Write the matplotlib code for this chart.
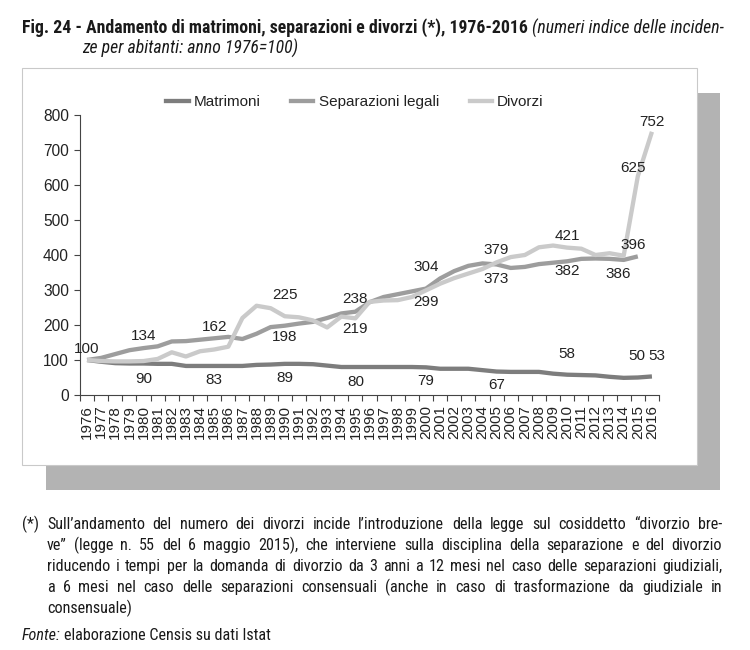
import matplotlib
matplotlib.use("Agg")
import matplotlib.pyplot as plt
import numpy as np
from matplotlib import font_manager as fm
from matplotlib.patches import Rectangle
from matplotlib.lines import Line2D

# ---------------- data ----------------
years = list(range(1976, 2017))
year_labels = [str(y) for y in years]

matrimoni = [100, 95, 91, 90, 90, 89, 89, 83, 83, 83,
             83, 83, 86, 87, 89, 89, 88, 84, 80, 80,
             80, 80, 80, 80, 79, 75, 75, 75, 71, 67,
             66, 66, 66, 61, 58, 57, 56, 52, 49, 50,
             53]
separazioni = [100, 106, 117, 128, 134, 139, 153, 154, 158, 162,
               166, 160, 175, 194, 198, 204, 209, 220, 233, 238,
               265, 280, 288, 296, 304, 333, 354, 369, 376, 373,
               363, 366, 374, 378, 382, 389, 390, 389, 386, 396,
               np.nan]
divorzi = [100, 97, 96, 96, 97, 103, 122, 110, 125, 130,
           138, 220, 255, 248, 225, 222, 213, 193, 224, 219,
           266, 270, 271, 280, 299, 318, 334, 347, 360, 379,
           394, 400, 422, 427, 421, 418, 400, 405, 398, 625,
           752]

series_names = ["Matrimoni", "Separazioni legali", "Divorzi"]
series_values = [matrimoni, separazioni, divorzi]
y_ticks = [0, 100, 200, 300, 400, 500, 600, 700, 800]

# years that carry a data label, per series
label_years = [
    [1980, 1985, 1990, 1995, 2000, 2005, 2010, 2015, 2016],
    [1980, 1985, 1990, 1995, 2000, 2005, 2010, 2014, 2015],
    [1976, 1990, 1995, 2000, 2005, 2010, 2015, 2016],
]

title_bold = "Fig. 24 - Andamento di matrimoni, separazioni e divorzi (*), 1976-2016"
title_italic_1 = "(numeri indice delle inciden-"
title_italic_2 = "ze per abitanti: anno 1976=100)"
note_lines = [
    "Sull\u2019andamento del numero dei divorzi incide l\u2019introduzione della legge sul cosiddetto \u201cdivorzio bre-",
    "ve\u201d (legge n. 55 del 6 maggio 2015), che interviene sulla disciplina della separazione e del divorzio",
    "riducendo i tempi per la domanda di divorzio da 3 anni a 12 mesi nel caso delle separazioni giudiziali,",
    "a 6 mesi nel caso delle separazioni consensuali (anche in caso di trasformazione da giudiziale in",
    "consensuale)",
]
note_mark = "(*)"
source_label = "Fonte:"
source_text = "elaborazione Censis su dati Istat"

# ---------------- styles ----------------
colors = ["#7d7d7d", "#9d9d9d", "#cacaca"]
LW = 3.1

# label offsets in pixels (dx, dy up)
label_offsets = [
    [(0, -16), (0, -14), (0, -14), (0, -15), (0, -14), (0, -13), (0, 21), (-1, 21), (5, 20)],
    [(0, 12), (0, 11), (0, -11), (0, 13), (0, 22), (0, -15), (0, -10), (-5, -14), (-5, 11)],
    [(0, 11), (0, 21), (0, -11), (0, -12), (0, 12), (0, 12), (-5, 8), (0, 10)],
]


def pick(fams):
    for f in fams:
        try:
            fm.findfont(fm.FontProperties(family=f), fallback_to_default=False)
            return f
        except Exception:
            pass
    return None


REG = pick(["Liberation Sans", "Arial", "DejaVu Sans"]) or "DejaVu Sans"
NARROW = pick(["Liberation Sans Narrow", "Arial Narrow", "Roboto Condensed",
               "Open Sans Condensed"]) or REG
plt.rcParams["font.family"] = [REG, "DejaVu Sans"]

W, H = 750, 650
fig = plt.figure(figsize=(W / 100, H / 100), dpi=100)
fig.patch.set_facecolor("white")


def fx(x):
    return x / W


def fy(y):
    return 1 - y / H


# frame + shadow
fig.patches.append(Rectangle((fx(46), fy(490)), (720 - 46) / W, (490 - 93) / H,
                             transform=fig.transFigure, facecolor="#b3b3b3",
                             edgecolor="none", zorder=-3))
fig.patches.append(Rectangle((fx(22), fy(465)), (697 - 22) / W, (465 - 68) / H,
                             transform=fig.transFigure, facecolor="white",
                             edgecolor="#c9c9c9", lw=0.8, zorder=-2))

ax = fig.add_axes([fx(80), fy(395), (659 - 80) / W, (395 - 115) / H])
ax.set_facecolor("none")
x = np.arange(len(years))
for k, (name, vals) in enumerate(zip(series_names, series_values)):
    ax.plot(x, vals, color=colors[k], lw=LW, solid_joinstyle="round",
            solid_capstyle="butt", zorder=2 + k, label=name)

ax.set_xlim(-0.5, len(years) - 0.5)
ax.set_ylim(0, 800)
ax.set_yticks(y_ticks)
ax.set_yticklabels([str(v) for v in y_ticks], fontsize=11.2, color="#222222")
ax.set_xticks(x)
ax.set_xticklabels(year_labels, rotation=90, fontsize=11, color="#222222")
ax.set_xticks(np.arange(-0.5, len(years), 1.0), minor=True)
ax.tick_params(axis="x", which="major", length=0, pad=7)
ax.tick_params(axis="x", which="minor", length=4, width=0.8, color="#444444", direction="out")
ax.tick_params(axis="y", length=4, width=0.8, color="#444444", direction="out", pad=4)
for s in ["top", "right"]:
    ax.spines[s].set_visible(False)
for s in ["left", "bottom"]:
    ax.spines[s].set_color("#444444")
    ax.spines[s].set_linewidth(0.8)

# data labels
for k, vals in enumerate(series_values):
    for yr, (dx, dy) in zip(label_years[k], label_offsets[k]):
        i = years.index(yr)
        v = vals[i]
        ax.annotate(f"{v:.0f}", (i, v), xytext=(dx * 0.72, dy * 0.72),
                    textcoords="offset points", ha="center", va="center",
                    fontsize=11, color="#222222", zorder=10)

# legend
handles = [Line2D([0], [0], color=c, lw=LW) for c in colors]
ax.legend(handles, series_names, loc="center", bbox_to_anchor=(fx(355), fy(102)),
          bbox_transform=fig.transFigure, ncol=3, frameon=False, fontsize=11,
          handlelength=1.45, handletextpad=0.35, columnspacing=2.0,
          labelcolor="#222222")

# ---------------- texts ----------------
fig.canvas.draw()
rend = fig.canvas.get_renderer()


def ptxt(xp, yp, s, fontsize=10, **kw):
    # yp = visual centre of capitals; place on the baseline
    base = yp + 0.71 * fontsize * 100 / 72 / 2
    return fig.text(fx(xp), fy(base), s, va="baseline", ha="left",
                    fontsize=fontsize, **kw)


def width(t):
    return t.get_window_extent(rend).width


def space_width(props):
    a = ptxt(0, -50, "a a", **props)
    b = ptxt(0, -50, "aa", **props)
    w_ = width(a) - width(b)
    a.remove(); b.remove()
    return w_


TCOL = "#1a1a1a"
# title: first line fitted to the width 22..722
bold_p = dict(family=NARROW, fontweight="bold", color=TCOL)
ital_p = dict(family=NARROW, style="italic", color=TCOL)
p1 = ptxt(0, -50, title_bold, fontsize=11, **bold_p)
p2 = ptxt(0, -50, title_italic_1, fontsize=11, **ital_p)
tot = width(p1) + width(p2) + space_width(dict(fontsize=11, **ital_p))
p1.remove(); p2.remove()
tsize = min(12.8, 11 * 700 / tot)
tb = ptxt(22, 27, title_bold, fontsize=tsize, **bold_p)
wb = width(tb)
ptxt(22 + wb + space_width(dict(fontsize=tsize, **ital_p)), 27, title_italic_1,
     fontsize=tsize, **ital_p)
ptxt(82, 47, title_italic_2, fontsize=tsize, **ital_p)

# footnote (justified), size fitted so the longest line fits 47..722
probe = [ptxt(0, -50, ln, family=NARROW, fontsize=10.5) for ln in note_lines[:-1]]
maxw = max(width(t) for t in probe)
for t in probe:
    t.remove()
nsize = min(11.6, 10.5 * 660 / maxw)
nprops = dict(family=NARROW, fontsize=nsize, color=TCOL)
space_n = space_width(nprops)


def line_words(words, x0, x1, y, justify, props):
    ts = [ptxt(0, y, w, **props) for w in words]
    ws = [width(t) for t in ts]
    if justify and len(words) > 1:
        gap = (x1 - x0 - sum(ws)) / (len(words) - 1)
    else:
        gap = space_n
    xx = x0
    for t, w_ in zip(ts, ws):
        t.set_x(fx(xx))
        xx += w_ + gap


ptxt(22, 523, note_mark, **nprops)
note_y = [523, 544, 565, 586, 607]
for j, (ln, yy) in enumerate(zip(note_lines, note_y)):
    line_words(ln.split(" "), 47, 722, yy, j < len(note_lines) - 1, nprops)

fs = ptxt(22, 634, source_label, style="italic", **nprops)
ptxt(22 + width(fs) + space_n, 634, source_text, **nprops)

fig.savefig("out.png", dpi=100, facecolor="white")
